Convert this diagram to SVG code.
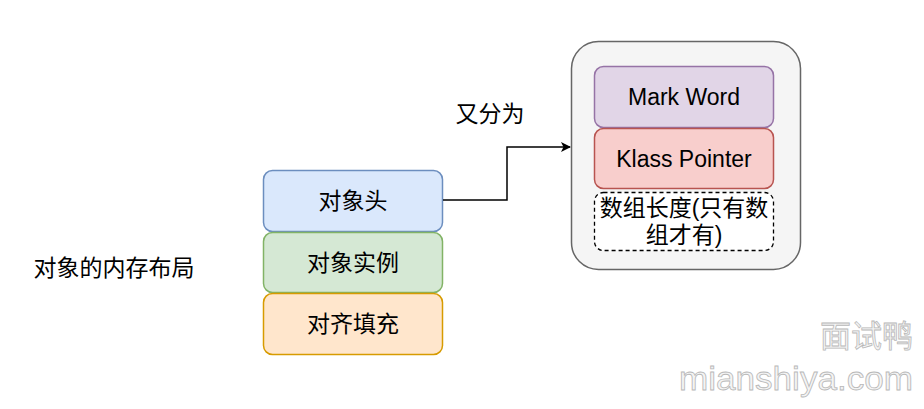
<svg xmlns="http://www.w3.org/2000/svg" width="924" height="409" viewBox="0 0 924 409">
<defs>
<style>
.t{font-family:"Liberation Sans","Noto Sans CJK SC",sans-serif;font-size:23px;fill:#000;text-anchor:middle;dominant-baseline:central}
.wm{fill:#f4f4f4;stroke:#b8b8b8;stroke-width:0.8;text-anchor:end}
</style>
<marker id="arr" viewBox="0 0 10 10" refX="9" refY="5" markerWidth="10" markerHeight="10" markerUnits="userSpaceOnUse" orient="auto">
<path d="M0,0 L10,5 L0,10 L2.5,5 Z" fill="#000"/>
</marker>
</defs>
<rect width="924" height="409" fill="#fff"/>
<g id="container">
<rect x="571.5" y="41.5" width="229" height="228" rx="27" fill="#f5f5f5" stroke="#666" stroke-width="1.5"/>
</g>
<g id="markword">
<rect x="594.5" y="66.5" width="179" height="61" rx="9" fill="#e1d5e7" stroke="#9673a6" stroke-width="1.5"/>
<text class="t" x="684" y="97">Mark Word</text>
</g>
<g id="klass">
<rect x="594.5" y="128.5" width="179" height="60" rx="9" fill="#f8cecc" stroke="#b85450" stroke-width="1.5"/>
<text class="t" x="684" y="159">Klass Pointer</text>
</g>
<g id="arraylen">
<rect x="594.5" y="192.5" width="179" height="58" rx="9" fill="#fff" stroke="#000" stroke-width="1.3" stroke-dasharray="4 3"/>
<text class="t" x="684" y="208">数组长度(只有数</text>
<text class="t" x="684" y="235">组才有)</text>
</g>
<g id="head">
<rect x="263.5" y="170.5" width="179" height="61" rx="9" fill="#dae8fc" stroke="#6c8ebf" stroke-width="1.5"/>
<text class="t" x="353" y="201">对象头</text>
</g>
<g id="instance">
<rect x="263.5" y="232.5" width="179" height="60" rx="9" fill="#d5e8d4" stroke="#82b366" stroke-width="1.5"/>
<text class="t" x="353" y="263">对象实例</text>
</g>
<g id="padding">
<rect x="263.5" y="293.5" width="179" height="61" rx="9" fill="#ffe6cc" stroke="#d79b00" stroke-width="1.5"/>
<text class="t" x="353" y="324">对齐填充</text>
</g>
<g id="title">
<text class="t" x="114" y="268">对象的内存布局</text>
</g>
<g id="connectors">
<path d="M443,200 H507 V147 H570" fill="none" stroke="#000" stroke-width="1.5" marker-end="url(#arr)"/>
<text class="t" x="490" y="114">又分为</text>
</g>
<g id="watermark">
<text class="wm" x="913" y="347" font-size="31" font-family="'Noto Sans CJK SC', sans-serif">面试鸭</text>
<text class="wm" x="913" y="390" font-size="33" font-family="'Liberation Sans', sans-serif" textLength="234" lengthAdjust="spacingAndGlyphs">mianshiya.com</text>
</g>
</svg>
